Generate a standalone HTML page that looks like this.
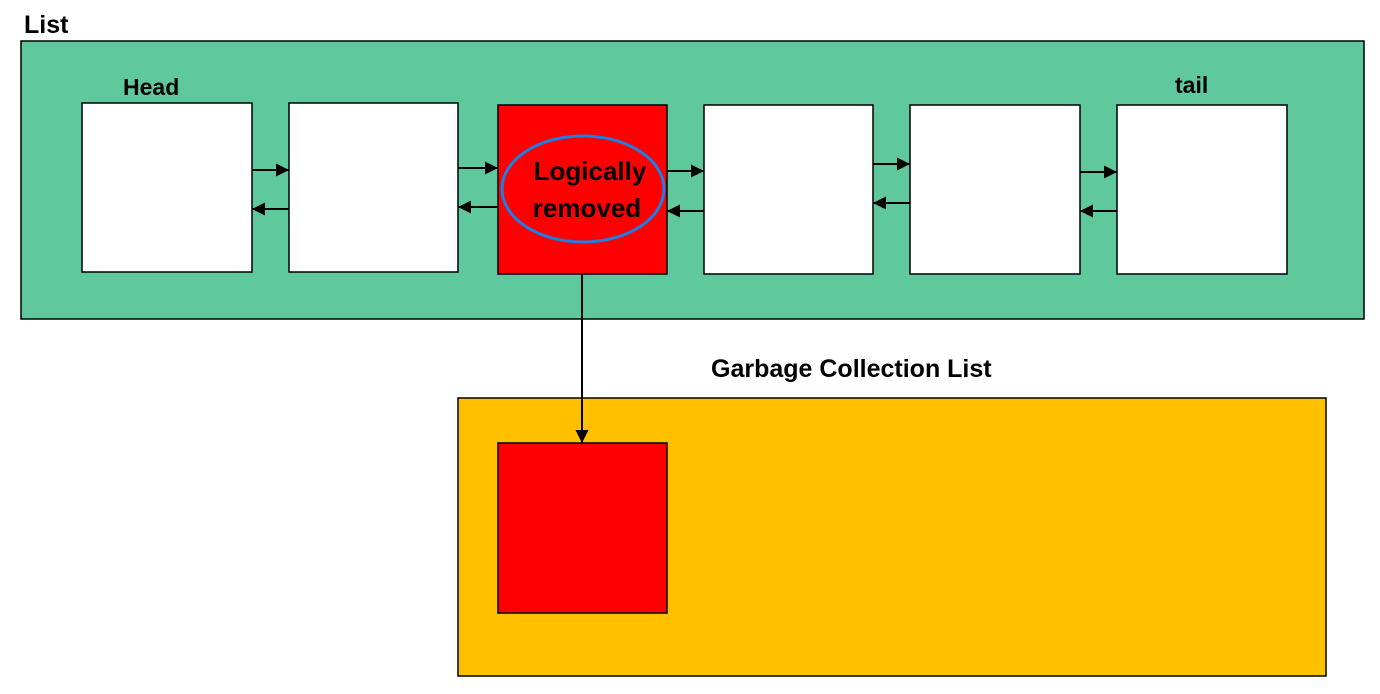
<!DOCTYPE html>
<html><head><style>html,body{margin:0;padding:0;background:#fff;}svg{display:block;}</style></head>
<body>
<svg width="1380" height="694" viewBox="0 0 1380 694" xmlns="http://www.w3.org/2000/svg" font-family="Liberation Sans, Arial, sans-serif" font-weight="bold">
<defs><marker id="a" viewBox="0 0 10 10" refX="10" refY="5" markerWidth="5" markerHeight="5" orient="auto-start-reverse" markerUnits="userSpaceOnUse"><path d="M0,0L10,5L0,10z" fill="#000"/></marker>
<marker id="b" viewBox="0 0 10 10" refX="10" refY="5" markerWidth="13" markerHeight="13" orient="auto" markerUnits="userSpaceOnUse"><path d="M0,0L10,5L0,10z" fill="#000"/></marker></defs>
<text x="24" y="33" font-size="25">List</text>
<rect x="21" y="41" width="1343" height="278" fill="#5fc99d" stroke="#000" stroke-width="1.5"/>
<text x="123" y="95" font-size="23">Head</text>
<text x="1175" y="93" font-size="23">tail</text>
<g stroke="#000" stroke-width="1.5" fill="#fff">
<rect x="82" y="103" width="170" height="169"/>
<rect x="289" y="103" width="169" height="169"/>
<rect x="498" y="105" width="169" height="169" fill="#ff0000"/>
<rect x="704" y="105" width="169" height="169"/>
<rect x="910" y="105" width="170" height="169"/>
<rect x="1117" y="105" width="170" height="169"/>
</g>
<ellipse cx="583" cy="189" rx="81" ry="53" fill="none" stroke="#1a7fe6" stroke-width="3"/>
<text x="590" y="180" font-size="26" text-anchor="middle">Logically</text>
<text x="587" y="217" font-size="26" text-anchor="middle">removed</text>
<g stroke="#000" stroke-width="2">
<line x1="252" y1="170" x2="289" y2="170" marker-end="url(#b)"/>
<line x1="289" y1="209" x2="252" y2="209" marker-end="url(#b)"/>
<line x1="458" y1="168" x2="498" y2="168" marker-end="url(#b)"/>
<line x1="498" y1="207" x2="458" y2="207" marker-end="url(#b)"/>
<line x1="667" y1="171" x2="704" y2="171" marker-end="url(#b)"/>
<line x1="704" y1="211" x2="667" y2="211" marker-end="url(#b)"/>
<line x1="873" y1="164" x2="910" y2="164" marker-end="url(#b)"/>
<line x1="910" y1="203" x2="873" y2="203" marker-end="url(#b)"/>
<line x1="1080" y1="172" x2="1117" y2="172" marker-end="url(#b)"/>
<line x1="1117" y1="211" x2="1080" y2="211" marker-end="url(#b)"/>
</g>
<text x="711" y="377" font-size="25">Garbage Collection List</text>
<rect x="458" y="398" width="868" height="278" fill="#ffc000" stroke="#000" stroke-width="1.5"/>
<rect x="498" y="443" width="169" height="170" fill="#ff0000" stroke="#000" stroke-width="1.5"/>
<line x1="582" y1="274" x2="582" y2="443" stroke="#000" stroke-width="2" marker-end="url(#b)"/>
</svg>
</body></html>
